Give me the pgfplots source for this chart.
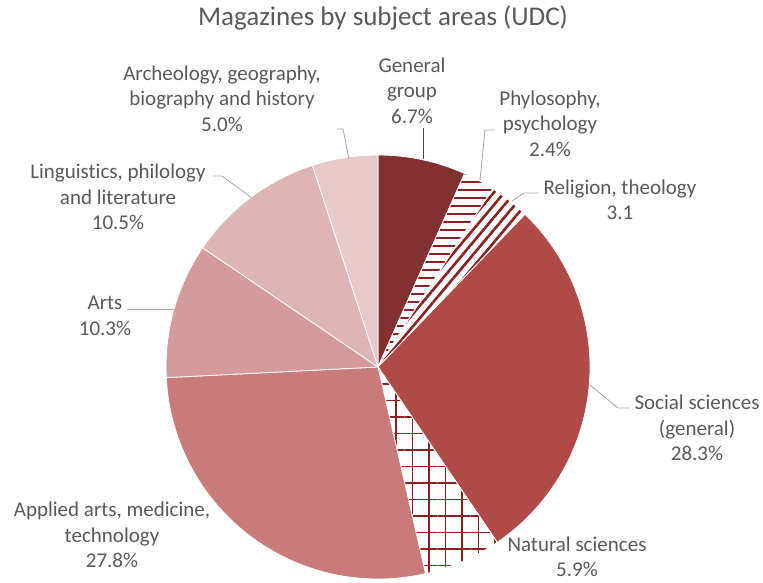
\documentclass[border=0pt]{standalone}
\usepackage{pgfplots}
\pgfplotsset{compat=1.18}
\usepackage{fontspec}
\setmainfont{Carlito}[Ligatures=NoCommon]
\usetikzlibrary{patterns.meta}

\definecolor{txt}{HTML}{595959}
\definecolor{lead}{HTML}{A6A6A6}
\definecolor{patred}{HTML}{8B2020}
\definecolor{cGen}{HTML}{833031}
\definecolor{cSoc}{HTML}{B04A48}
\definecolor{cApp}{HTML}{C97B7A}
\definecolor{cArt}{HTML}{D49B9A}
\definecolor{cLin}{HTML}{DEB5B5}
\definecolor{cArc}{HTML}{E7C9CA}

\tikzset{lbl/.style={font=\fontsize{21}{25.5}\selectfont, text=txt, align=center, inner sep=0pt}}

% pie slice: #1 = cumulative start (%), #2 = share (%), #3 = style
\newcommand\slice[3]{%
  \addplot[#3, draw=white, line width=0.8pt, domain={#1}:{#1+#2}, samples=80, variable=\t]
    ({378+212*cos(90-3.6*\t)}, {215+212*sin(90-3.6*\t)}) -- (axis cs:378,215) -- cycle;}

\begin{document}
\begin{tikzpicture}
\begin{axis}[
    width=763pt, height=582pt, scale only axis,
    xmin=0, xmax=763, ymin=0, ymax=582,
    hide axis, clip=false,
]
\path (axis cs:0,0) rectangle (axis cs:763,582);

\slice{0}{6.7}{fill=cGen}
\slice{6.7}{2.4}{pattern={Lines[angle=0,distance=8pt,line width=1.4pt]}, pattern color=patred}
\slice{9.1}{3.1}{pattern={Lines[angle=50,distance=8pt,line width=2.6pt]}, pattern color=patred}
\slice{12.2}{28.3}{fill=cSoc}
\slice{40.5}{5.9}{pattern={Hatch[angle=0,distance=16.5pt,line width=1.8pt]}, pattern color=patred}
\slice{46.4}{27.8}{fill=cApp}
\slice{74.2}{10.3}{fill=cArt}
\slice{84.5}{10.5}{fill=cLin}
\slice{95.0}{5.0}{fill=cArc}

% leader lines
\draw[black!70, line width=0.8pt] (axis cs:423,454) -- (axis cs:423,423);
\draw[lead, line width=0.8pt] (axis cs:480,402) -- (axis cs:485,452) -- (axis cs:495,452);
\draw[lead, line width=0.8pt] (axis cs:512,381) -- (axis cs:524,389) -- (axis cs:538,389);
\draw[lead, line width=0.8pt] (axis cs:590,197) -- (axis cs:618,174) -- (axis cs:629,174);
\draw[lead, line width=0.8pt] (axis cs:127,273) -- (axis cs:175,273);
\draw[lead, line width=0.8pt] (axis cs:213,406) -- (axis cs:222,406) -- (axis cs:252,384);
\draw[lead, line width=0.8pt] (axis cs:337,453) -- (axis cs:343,453) -- (axis cs:349,423);

% labels
\node[lbl, font=\fontsize{27}{30}\selectfont] at (axis cs:383,564) {Magazines by subject areas (UDC)};
\node[lbl] at (axis cs:412,491.5) {General\\group\\6.7\%};
\node[lbl] at (axis cs:550,458.5) {Phylosophy,\\psychology\\2.4\%};
\node[lbl] at (axis cs:620,382) {Religion, theology\\3.1};
\node[lbl] at (axis cs:697,154) {Social sciences\\(general)\\28.3\%};
\node[lbl] at (axis cs:577,25) {Natural sciences\\5.9\%};
\node[lbl] at (axis cs:112,47) {Applied arts, medicine,\\technology\\27.8\%};
\node[lbl] at (axis cs:105,266) {Arts\\10.3\%};
\node[lbl] at (axis cs:118,385) {Linguistics, philology\\and literature\\10.5\%};
\node[lbl] at (axis cs:222,483.5) {Archeology, geography,\\biography and history\\5.0\%};
\end{axis}
\end{tikzpicture}
\end{document}
